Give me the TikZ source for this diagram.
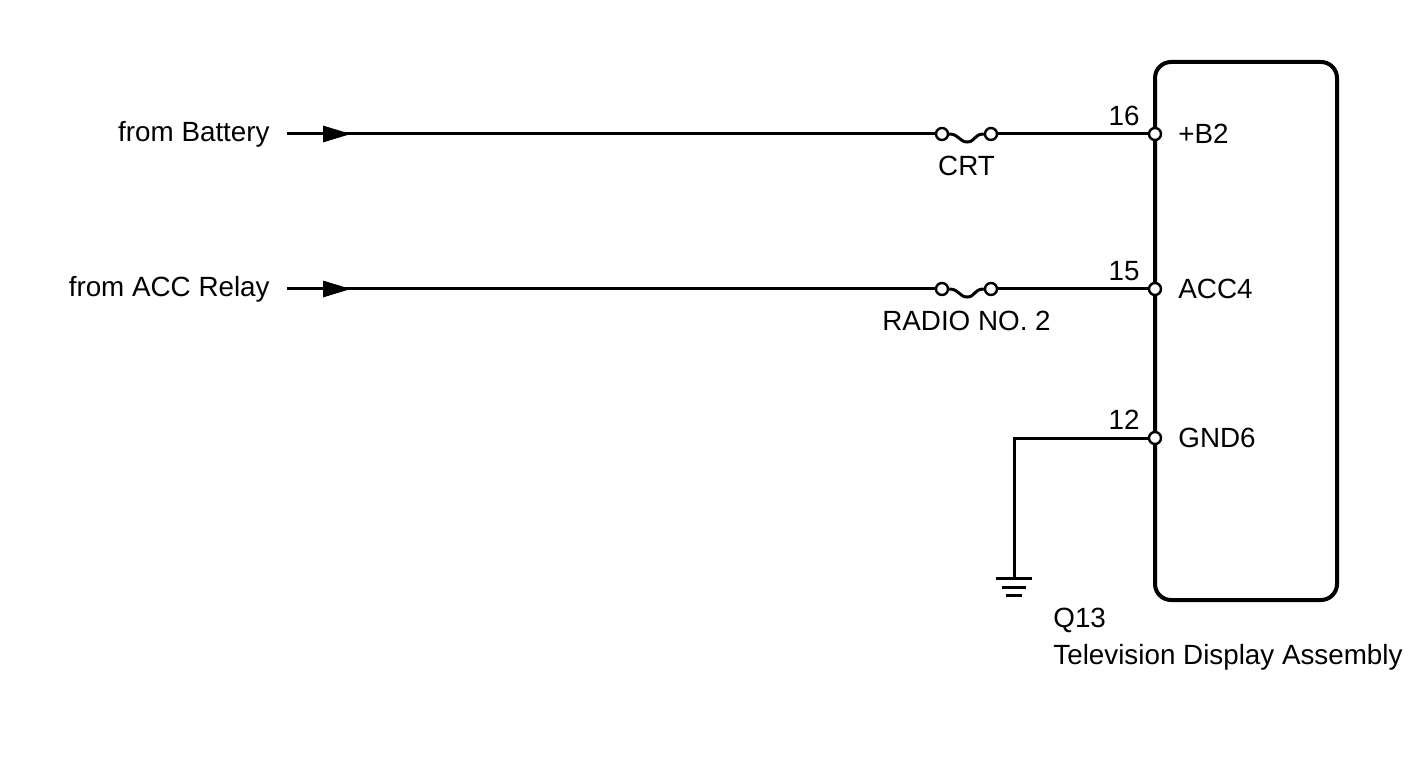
\documentclass[tikz,border=0pt]{standalone}
\usepackage{fontspec}
\setmainfont{Liberation Sans}
\usetikzlibrary{arrows.meta,calc}

\begin{document}
\begin{tikzpicture}[x=0.5pt,y=-0.5pt,
	wire/.style={line width=1.5pt},
	pin/.style={circle,draw,line width=1.2pt,fill=white,inner sep=0pt,minimum size=6pt},
	lbl/.style={font=\fontsize{13.9}{16}\selectfont,inner sep=0pt}]

% frame %{{{2

	\useasboundingbox (0,0) rectangle (1424,759);

% parameters %{{{2

	\def\boxl{1155}

% connector box %{{{2

	\draw[line width=2pt,rounded corners=8pt] (\boxl,62) rectangle (1337,600);

% wires %{{{2

	\foreach \y/\n/\pname/\from/\fuse/\name in
		{134/16/+B2/from Battery/CRT/B, 289/15/ACC4/from ACC Relay/RADIO NO. 2/A} {
		\node[lbl,anchor=east] (src\name) at (270,\y) {\from};
		\coordinate (start\name) at (287,\y);
		\node[pin] (fa\name) at (942,\y) {};
		\node[pin] (fb\name) at (991,\y) {};
		\node[pin] (pin\name) at (\boxl,\y) {};
		\draw[wire] (start\name) -- (fa\name);
		\draw[wire,-{Triangle[length=14pt,width=8pt]}] (start\name) -- ++(64,0);
		\draw[wire] (fa\name.east) .. controls ++(10,0) and ++(-8,0) .. ++(18,8)
			.. controls ++(8,0) and ++(-10,0) .. (fb\name.west);
		\draw[wire] (fb\name) -- (pin\name);
		\node[lbl,anchor=north] at ($(fa\name)!0.5!(fb\name)+(0,22)$) {\fuse};
		\node[lbl,anchor=south east] at (1140,\y-8) {\n};
		\node[lbl,anchor=west] at (1178,\y) {\pname};
	}

% ground %{{{2

	\node[pin] (pinG) at (\boxl,438) {};
	\coordinate (bend) at (1014,438);
	\coordinate (gnd) at (1014,578);
	\draw[wire] (pinG) -- (bend) -- (gnd);
	\draw[wire] (gnd) ++(-18,0) -- ++(36,0);
	\draw[wire] (gnd) ++(-12,9) -- ++(24,0);
	\draw[wire] (gnd) ++(-8,17) -- ++(16,0);
	\node[lbl,anchor=south east] at (1140,430) {12};
	\node[lbl,anchor=west] at (1178,438) {GND6};

% labels %{{{2

	\node[lbl,anchor=west] at (1053,620) {Q13};
	\node[lbl,anchor=west] at (1053,657) {Television Display Assembly};

\end{tikzpicture}
\end{document}
